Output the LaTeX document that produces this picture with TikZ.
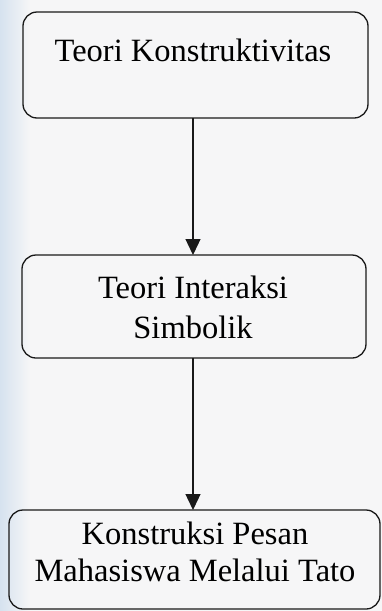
\documentclass[tikz,border=0pt]{standalone}
\usepackage{fontspec}
\setmainfont{Liberation Serif}
\usetikzlibrary{arrows.meta,calc}
\definecolor{paper}{HTML}{F6F6F7}
\definecolor{edgetint}{HTML}{D6E2EF}
\tikzset{
  x=1pt, y=1pt,
  flowbox/.style={draw=black!90, line width=1.3pt, rounded corners=14pt,
    inner sep=0pt, outer sep=0pt},
  flowtext/.style={font=\fontsize{32.5}{40}\selectfont, align=center,
    inner sep=0pt, text=black},
  flowarrow/.style={draw=black!90, line width=1.3pt,
    -{Triangle[length=16pt, width=15pt]}}
}
\begin{document}
\begin{tikzpicture}
  % page and its tinted left margin
  \fill[paper] (0,0) rectangle (382,-611);
  \shade[left color=edgetint, right color=paper] (0,0) rectangle (30,-611);
  \useasboundingbox (0,0) rectangle (382,-611);

  % boxes
  \node[flowbox, minimum width=345pt, minimum height=106pt] (box1) at (195.5,-65) {};
  \node[flowbox, minimum width=344pt, minimum height=103pt] (box2) at (194,-306.5) {};
  \node[flowbox, minimum width=371pt, minimum height=99pt] (box3) at (194.5,-559.5) {};

  % labels
  \node[flowtext] (t1) at (193,-50) {Teori Konstruktivitas};
  \node[flowtext] (t2) at (193,-307) {Teori Interaksi\\Simbolik};
  \node[flowtext, font=\fontsize{32.5}{37}\selectfont] (t3) at (195,-552)
    {Konstruksi Pesan\\Mahasiswa Melalui Tato};

  % connectors
  \draw[flowarrow] ($(box1.south)+(-2.5,0)$) -- ($(box2.north)+(-1,0)$);
  \draw[flowarrow] ($(box2.south)+(-1,0)$) -- ($(box3.north)+(-1.5,0)$);
\end{tikzpicture}
\end{document}
